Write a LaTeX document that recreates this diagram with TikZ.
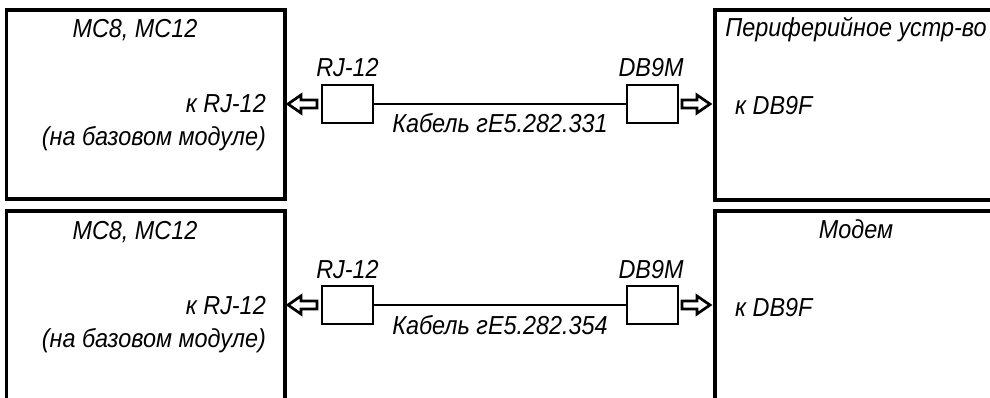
\documentclass[tikz,border=0pt]{standalone}
\usepackage{fontspec}
\newfontfamily\gost{Liberation Sans}[FakeStretch=0.9]
\tikzset{
	devbox/.style={draw,line width=3.6pt,inner sep=0pt,outer sep=0pt},
	plugbox/.style={draw,line width=2.8pt,minimum width=51pt,minimum height=38pt,inner sep=0pt,outer sep=0pt},
	lbl/.style={font=\gost\itshape\fontsize{26}{30}\selectfont,inner sep=0pt},
	plug/.style={line width=2.7pt},
	cable/.style={line width=2.6pt}
}
\begin{document}
\begin{tikzpicture}[x=1pt,y=-1pt]
			\useasboundingbox (0,0) rectangle (990,398);
			\clip (0,0) rectangle (990,398);
			\foreach \dy/\dev/\num in {0/{Периферийное устр-во}/331,201/{Модем}/354}{
			\begin{scope}[shift={(0,\dy)}]
			\node[devbox,minimum width=278.5pt,minimum height=189pt] (mc) at (145.75,104.5) {};
			\node[devbox,minimum width=282pt,minimum height=190pt] (dev) at (856,105) {};
			\node[lbl,anchor=base] (mcname) at (135,38) {MC8, MC12};
			\node[lbl,anchor=base east] (mcport) at (266,113) {к RJ-12};
			\node[lbl,anchor=base east] (mcnote) at (266,146) {(на базовом модуле)};
			\node[lbl,anchor=base] (devname) at (856,37) {\dev};
			\node[lbl,anchor=base west] (devport) at (735,115) {к DB9F};
			\node[plugbox] (rj) at (347.5,104) {};
			\node[plugbox] (db) at (652.5,104) {};
			\node[lbl,anchor=base] (rjname) at (347.5,77) {RJ-12};
			\node[lbl,anchor=base] (dbname) at (651,77) {DB9M};
			\draw[cable] (rj) -- (db);
			\node[lbl,anchor=base] (cablename) at (500,133) {Кабель гЕ5.282.\num};
			\coordinate (la) at ([xshift=-5pt]rj.west);
			\coordinate (ra) at ([xshift=4pt]db.east);
			\draw[plug] (la) -- ++(0,-4) -- ++(-16,0) -- ++(0,-5) -- ++(-13,9)
			-- ++(13,9) -- ++(0,-5) -- ++(16,0) -- cycle;
			\draw[plug] (ra) -- ++(0,-4) -- ++(15,0) -- ++(0,-5) -- ++(13,9)
			-- ++(-13,9) -- ++(0,-5) -- ++(-15,0) -- cycle;
			\end{scope}}
			\end{tikzpicture}
\end{document}
